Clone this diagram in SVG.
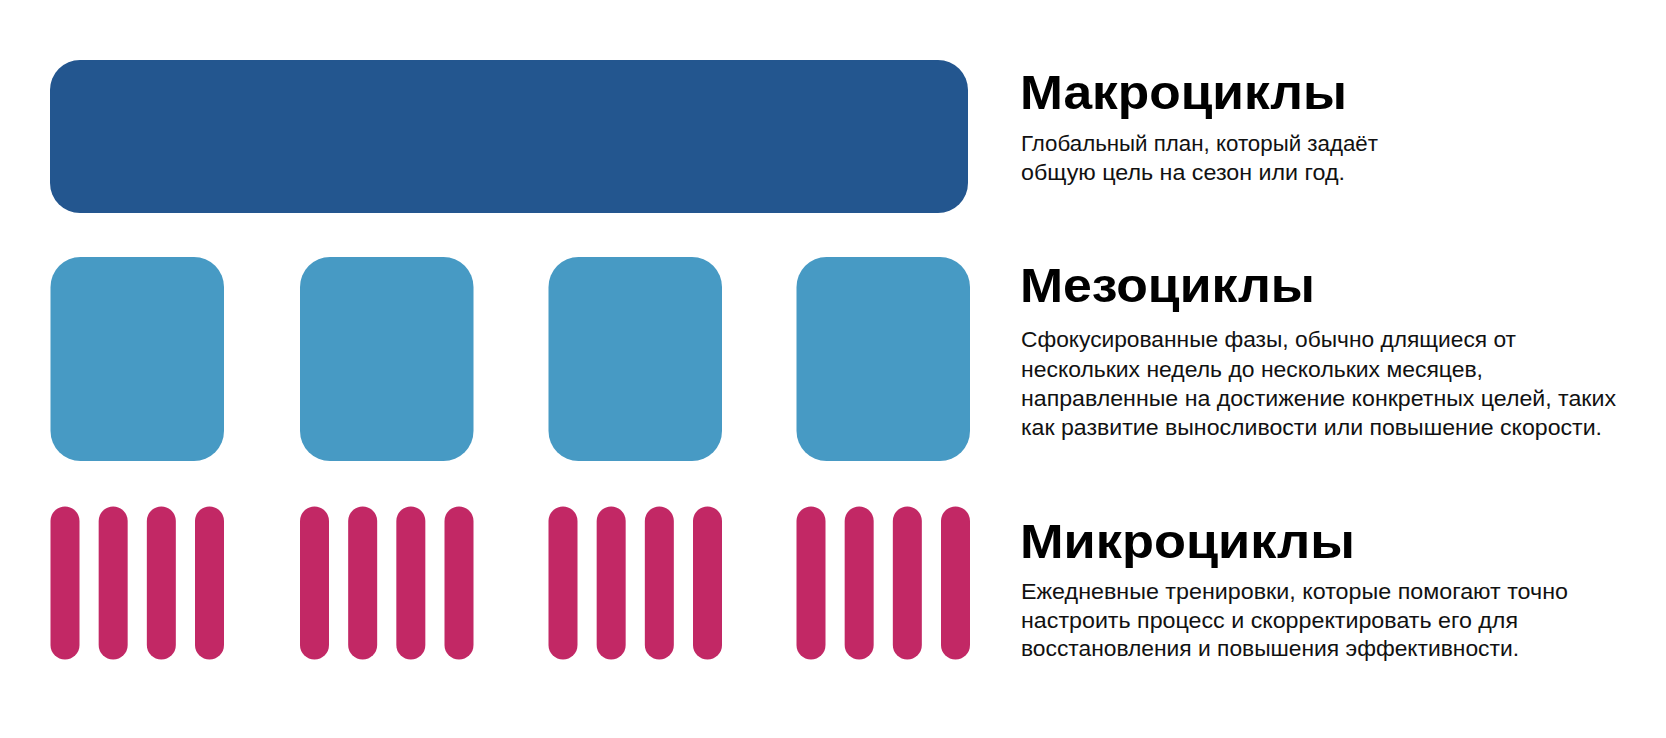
<svg xmlns="http://www.w3.org/2000/svg" width="1666" height="738" viewBox="0 0 1666 738">
  <style>
    .macro { fill: #23568F; }
    .meso { fill: #479AC4; }
    .micro { fill: #C22865; }
    .h { font-family: "Liberation Sans", Arial, sans-serif; font-weight: bold; font-size: 48px; fill: #000; }
    .b { font-family: "Liberation Sans", Arial, sans-serif; font-size: 21.5px; fill: #111; }
  </style>
  <rect width="1666" height="738" fill="#fff"/>
  <g id="macrocycle">
    <rect class="macro" x="50" y="60" width="918" height="153" rx="30"/>
  </g>
  <g id="mesocycles">
    <rect id="meso1" class="meso" x="50.5" y="257" width="173.5" height="204" rx="30"/>
    <rect id="meso2" class="meso" x="300" y="257" width="173.5" height="204" rx="30"/>
    <rect id="meso3" class="meso" x="548.5" y="257" width="173.5" height="204" rx="30"/>
    <rect id="meso4" class="meso" x="796.5" y="257" width="173.5" height="204" rx="30"/>
  </g>
  <defs>
    <g id="bars">
      <rect class="micro" x="0" y="506.5" width="29" height="153" rx="14.5"/>
      <rect class="micro" x="48.17" y="506.5" width="29" height="153" rx="14.5"/>
      <rect class="micro" x="96.33" y="506.5" width="29" height="153" rx="14.5"/>
      <rect class="micro" x="144.5" y="506.5" width="29" height="153" rx="14.5"/>
    </g>
  </defs>
  <g id="microcycles">
    <use id="micro1" href="#bars" x="50.5"/>
    <use id="micro2" href="#bars" x="300"/>
    <use id="micro3" href="#bars" x="548.5"/>
    <use id="micro4" href="#bars" x="796.5"/>
  </g>
  <g id="connectors"/>
  <g id="label-macro">
    <text class="h" x="1020" y="109" textLength="327" lengthAdjust="spacingAndGlyphs">Макроциклы</text>
    <text class="b" x="1021" y="151" textLength="357" lengthAdjust="spacingAndGlyphs">Глобальный план, который задаёт</text>
    <text class="b" x="1021" y="180" textLength="324" lengthAdjust="spacingAndGlyphs">общую цель на сезон или год.</text>
  </g>
  <g id="label-meso">
    <text class="h" x="1020" y="302" textLength="295" lengthAdjust="spacingAndGlyphs">Мезоциклы</text>
    <text class="b" x="1021" y="347" textLength="495" lengthAdjust="spacingAndGlyphs">Сфокусированные фазы, обычно длящиеся от</text>
    <text class="b" x="1021" y="376.5" textLength="462" lengthAdjust="spacingAndGlyphs">нескольких недель до нескольких месяцев,</text>
    <text class="b" x="1021" y="405.5" textLength="595" lengthAdjust="spacingAndGlyphs">направленные на достижение конкретных целей, таких</text>
    <text class="b" x="1021" y="434.5" textLength="581" lengthAdjust="spacingAndGlyphs">как развитие выносливости или повышение скорости.</text>
  </g>
  <g id="label-micro">
    <text class="h" x="1020" y="558" textLength="335" lengthAdjust="spacingAndGlyphs">Микроциклы</text>
    <text class="b" x="1021" y="598.5" textLength="547" lengthAdjust="spacingAndGlyphs">Ежедневные тренировки, которые помогают точно</text>
    <text class="b" x="1021" y="627.5" textLength="497" lengthAdjust="spacingAndGlyphs">настроить процесс и скорректировать его для</text>
    <text class="b" x="1021" y="656" textLength="498" lengthAdjust="spacingAndGlyphs">восстановления и повышения эффективности.</text>
  </g>
</svg>
